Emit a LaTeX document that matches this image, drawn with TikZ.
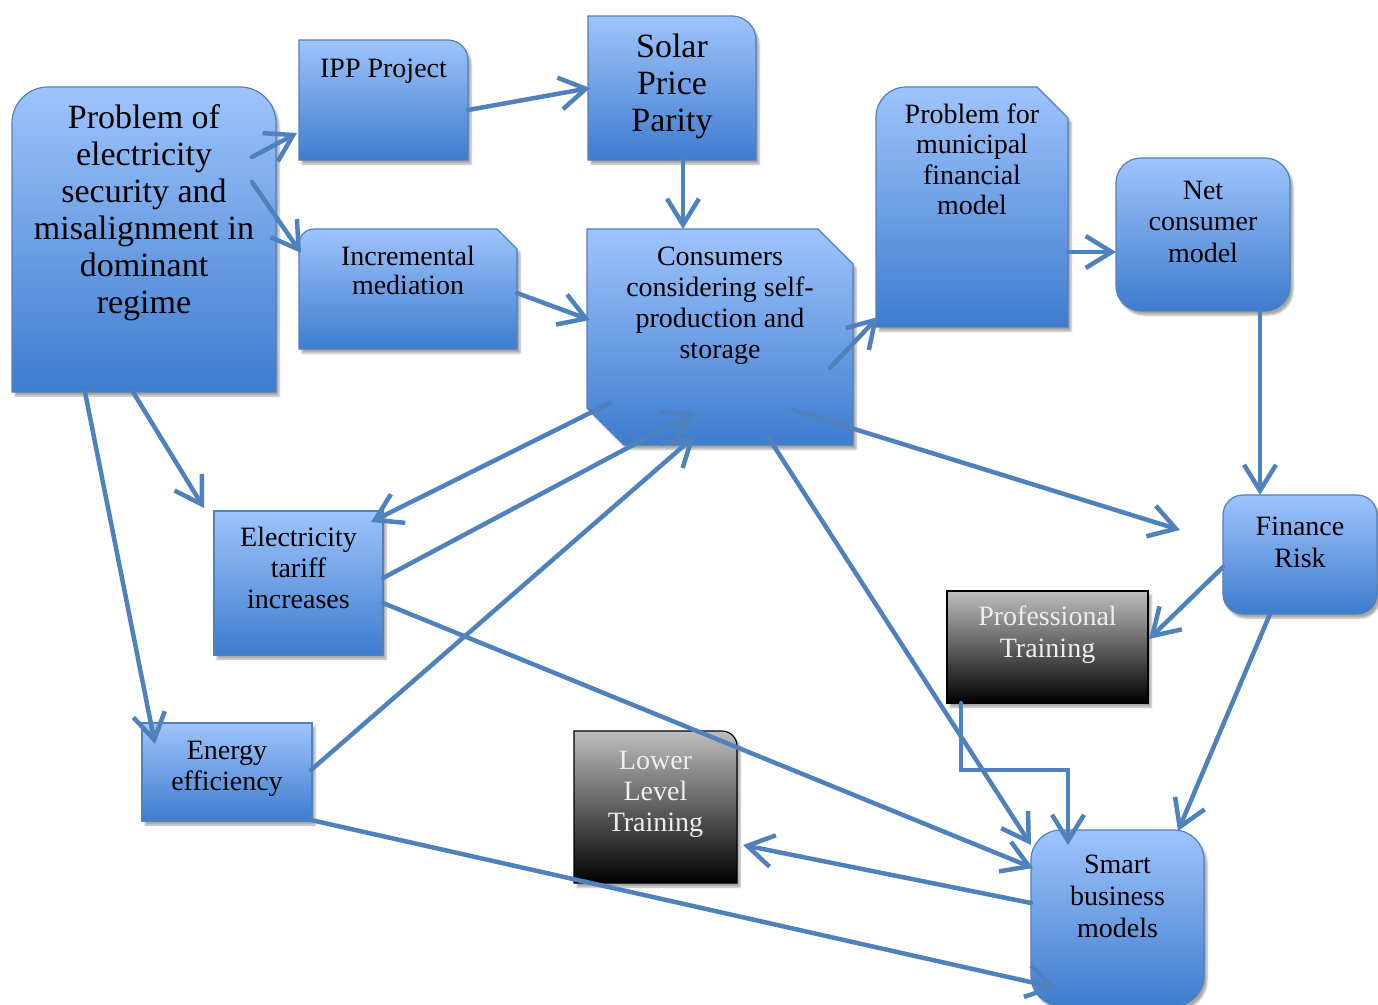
\documentclass[tikz,border=0pt]{standalone}
\usepackage{fontspec}
\setmainfont{Liberation Serif}
\usetikzlibrary{arrows.meta,shadows.blur,backgrounds}
\definecolor{boxtop}{RGB}{158,196,252}
\definecolor{boxbot}{RGB}{62,124,206}
\definecolor{boxedge}{RGB}{80,128,190}
\definecolor{arrblue}{RGB}{79,129,189}
\definecolor{grtop}{RGB}{190,190,190}
\definecolor{grtxt}{RGB}{238,238,238}
\newcommand{\bigtxt}{\fontsize{34}{37}\selectfont}
\newcommand{\midtxt}{\fontsize{28}{31}\selectfont}

\begin{document}
\begin{tikzpicture}[x=1pt,y=1pt,
  box/.style={inner sep=0pt,outer sep=0pt,align=center,anchor=north west,font=\midtxt},
  bluesh/.style={top color=boxtop,bottom color=boxbot,draw=boxedge,line width=1.2pt,
    blur shadow={shadow xshift=3pt,shadow yshift=-4pt,shadow opacity=35}},
  blacksh/.style={top color=grtop,bottom color=black,draw=black,line width=1.2pt,
    blur shadow={shadow xshift=3pt,shadow yshift=-4pt,shadow opacity=35}},
  arr/.style={draw=arrblue,line width=4.5pt,line cap=round,-{Straight Barb[length=26pt,width=32pt]}}]
\useasboundingbox (0,0) rectangle (1378,-1004);

% boxes (text at the top, text height up to the last baseline)
\node[box,font=\bigtxt,minimum width=264pt,text height=226pt,text depth=79pt] (prob) at (12,-87) {Problem of\\electricity\\security and\\misalignment in\\dominant\\regime};
\node[box,minimum width=169pt,text height=37pt,text depth=83pt] (ipp) at (299,-40) {IPP Project};
\node[box,font=\bigtxt,minimum width=168pt,text height=115pt,text depth=29pt] (solar) at (588,-16) {Solar\\Price\\Parity};
\node[box,font=\fontsize{28}{29.5}\selectfont,minimum width=218pt,text height=65.5pt,text depth=54.5pt] (incr) at (299,-229) {Incremental\\mediation};
\node[box,minimum width=266pt,text height=129pt,text depth=87pt] (cons) at (587,-229) {Consumers\\considering self-\\production and\\storage};
\node[box,font=\fontsize{28}{30.5}\selectfont,minimum width=192pt,text height=127.5pt,text depth=112.5pt] (muni) at (876,-87) {Problem for\\municipal\\financial\\model};
\node[box,font=\fontsize{28}{31.5}\selectfont,minimum width=174pt,text height=104pt,text depth=49pt] (net) at (1116,-158) {Net\\consumer\\model};
\node[box,font=\fontsize{28}{32}\selectfont,minimum width=154pt,text height=72pt,text depth=47pt] (fin) at (1223,-495) {Finance\\Risk};
\node[box,minimum width=169pt,text height=97pt,text depth=47pt] (tariff) at (214,-511) {Electricity\\tariff\\increases};
\node[box,minimum width=170pt,text height=67pt,text depth=31pt] (eff) at (142,-723) {Energy\\efficiency};
\node[box,font=\fontsize{28}{32}\selectfont,minimum width=173pt,text height=107pt,text depth=69pt] (smart) at (1031,-830) {Smart\\business\\models};
\node[box,font=\fontsize{28}{32.5}\selectfont,text=grtxt,minimum width=201pt,text height=66.5pt,text depth=45.5pt] (prof) at (947,-591) {Professional\\Training};
\node[box,text=grtxt,minimum width=163pt,text height=100pt,text depth=52pt] (lower) at (574,-731) {Lower\\Level\\Training};

\begin{pgfonlayer}{background}
\shade[bluesh] (prob.south west) -- ([yshift=-36pt]prob.north west) arc[start angle=180,end angle=90,radius=36pt] -- ([xshift=-36pt]prob.north east) arc[start angle=90,end angle=0,radius=36pt] -- (prob.south east) -- cycle;
\shade[bluesh] (ipp.south west) -- (ipp.north west) -- ([xshift=-20pt]ipp.north east) arc[start angle=90,end angle=0,radius=20pt] -- (ipp.south east) -- cycle;
\shade[bluesh] (solar.south west) -- (solar.north west) -- ([xshift=-24pt]solar.north east) arc[start angle=90,end angle=0,radius=24pt] -- (solar.south east) -- cycle;
\shade[bluesh] (incr.south west) -- ([yshift=-15pt]incr.north west) arc[start angle=180,end angle=90,radius=15pt] -- ([xshift=-20pt]incr.north east) -- ([yshift=-20pt]incr.north east) -- (incr.south east) -- cycle;
\shade[bluesh] ([yshift=37pt]cons.south west) -- (cons.north west) -- ([xshift=-35pt]cons.north east) -- ([yshift=-35pt]cons.north east) -- (cons.south east) -- ([xshift=37pt]cons.south west) -- cycle;
\shade[bluesh] (muni.south west) -- ([yshift=-30pt]muni.north west) arc[start angle=180,end angle=90,radius=30pt] -- ([xshift=-31pt]muni.north east) -- ([yshift=-31pt]muni.north east) -- (muni.south east) -- cycle;
\shade[bluesh,rounded corners=25pt] (net.south west) rectangle (net.north east);
\shade[bluesh,rounded corners=20pt] (fin.south west) rectangle (fin.north east);
\shade[bluesh] (tariff.south west) rectangle (tariff.north east);
\shade[bluesh] (eff.south west) rectangle (eff.north east);
\shade[bluesh,rounded corners=30pt] (smart.south west) rectangle (smart.north east);
\shade[blacksh] (prof.south west) rectangle (prof.north east);
\shade[blacksh] (lower.south west) -- (lower.north west) -- ([xshift=-15pt]lower.north east) arc[start angle=90,end angle=0,radius=15pt] -- (lower.south east) -- cycle;
\end{pgfonlayer}

% links
\draw[arr] ([shift={(-24,-70)}]prob.north east) -- ([shift={(-2,-33)}]ipp.west);
\draw[arr] ([shift={(-24,-95)}]prob.north east) -- ([shift={(2,-24)}]incr.north west);
\draw[arr] ([yshift=-10pt]ipp.east) -- ([xshift=2pt]solar.west);
\draw[arr] ([xshift=11pt]solar.south) -- ([xshift=-37pt]cons.north);
\draw[arr] ([yshift=-4pt]incr.east) -- ([shift={(3,17)}]cons.west);
\draw[arr] ([shift={(-23,-31)}]cons.east) -- ([shift={(2,10)}]muni.south west);
\draw[arr] ([yshift=-45pt]muni.east) -- ([yshift=-17.5pt]net.west);
\draw[arr] ([xshift=57pt]net.south) -- ([xshift=-40pt]fin.north);
\draw[arr] ([shift={(-60,35)}]cons.south east) -- ([shift={(-43,24.5)}]fin.west);
\draw[arr] ([shift={(23,42)}]cons.south west) -- ([shift={(-12,-11)}]tariff.north east);
\draw[arr] ([yshift=5pt]tariff.east) -- ([shift={(-25,33)}]cons.south);
\draw[arr] ([shift={(-1,2)}]eff.east) -- ([shift={(-25,9)}]cons.south);
\draw[arr] ([xshift=-11pt]prob.south) -- ([shift={(-10,3)}]tariff.north west);
\draw[arr] ([xshift=-59pt]prob.south) -- ([shift={(13,-21)}]eff.north west);
\draw[arr] ([shift={(48,8)}]cons.south) -- ([yshift=-15pt]smart.north west);
\draw[arr] ([yshift=-20pt]tariff.east) -- ([shift={(2,-38)}]smart.north west);
\draw[arr] ([yshift=15pt]smart.west) -- ([shift={(6,-38)}]lower.east);
\draw[arr] ([shift={(-1,1)}]eff.south east) -- ([shift={(26,18)}]smart.south west);
\draw[arr] ([yshift=-12.5pt]fin.west) -- ([shift={(1,8)}]prof.east);
\draw[arr] ([xshift=-30pt]fin.south) -- ([shift={(-26,-1)}]smart.north east);
\draw[arr] ([xshift=14pt]prof.south west) -- ++(0,-67) -| ([shift={(37,-15)}]smart.north west);
\end{tikzpicture}
\end{document}
